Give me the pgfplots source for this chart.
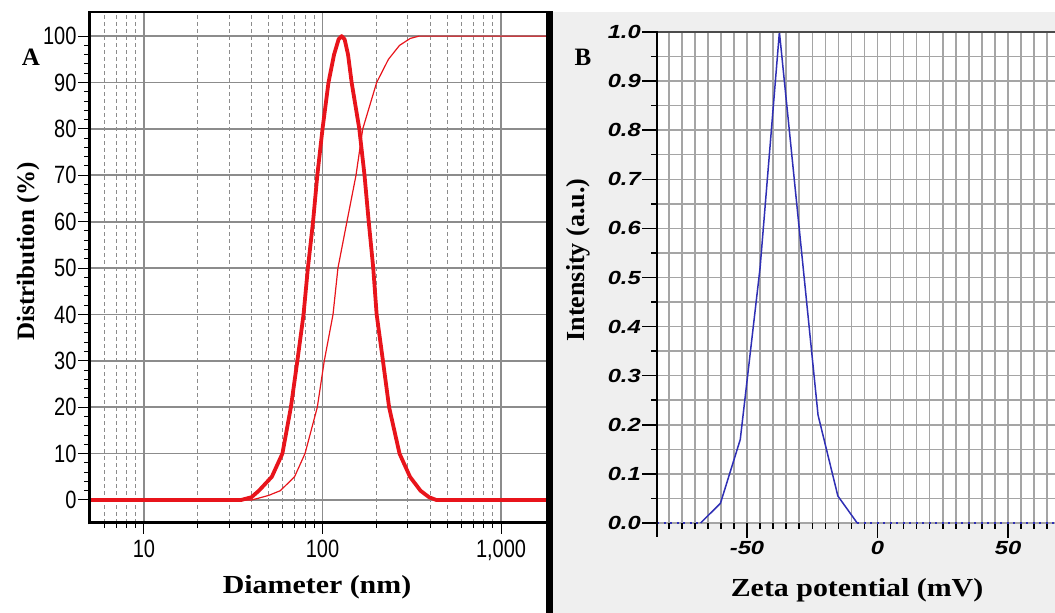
\documentclass[border=0pt]{standalone}
\usepackage{pgfplots}
\pgfplotsset{compat=1.18}
\usepackage{fontspec}
\setmainfont{Liberation Serif}
\newfontfamily\tickA[FakeStretch=0.8]{Liberation Sans}
\newfontfamily\tickB[FakeStretch=1.25]{Liberation Sans}
\newfontfamily\labH[FakeStretch=1.15]{Liberation Serif}
\definecolor{dlsred}{HTML}{E8141B}
\definecolor{zetablue}{HTML}{2F2FB5}
\definecolor{panelgray}{HTML}{EFEFEF}
\definecolor{gridA}{HTML}{8C8C8C}
\definecolor{gridB}{HTML}{A5A5A5}

\begin{document}
\begin{tikzpicture}[x=1pt,y=1pt]
\path[use as bounding box] (0,0) rectangle (1055,613);
\fill[panelgray] (553,0) rectangle (1055,601);

% (A) size distribution
\begin{axis}[
  anchor=south west, at={(89pt,90pt)},
  scale only axis, width=457pt, height=511pt,
  xmode=log, xmin=4.92, xmax=1786, ymin=-4.96, ymax=105.2,
  axis line style={draw=none},
  xtick={10,100,1000}, xticklabels={10,100,{1,000}},
  minor xtick={6,7,8,9,20,30,40,50,60,70,80,90,200,300,400,500,600,700,800,900},
  ytick={0,10,...,100},
  yticklabels={0,10,20,30,40,50,60,70,80,90,100},
  minor y tick num=4,
  tick align=outside, xtick pos=bottom, ytick pos=left,
  major tick length=11pt, minor tick length=5pt,
  tick style={black, line width=1pt},
  xmajorgrids, xminorgrids, ymajorgrids,
  major grid style={gridA, line width=1.7pt},
  minor grid style={gridA, line width=1pt, dash pattern=on 4pt off 3pt},
  tick label style={font=\tickA\fontsize{25}{25}\selectfont},
  yticklabel style={inner sep=1.5pt},
  xticklabel style={inner sep=6pt},
]
\addplot[dlsred, line width=1.2pt] coordinates {
  (4.92,0) (40,0) (43,0.3) (50,1) (58,2) (69.7,5) (79.8,10) (93.5,20)
  (102.3,30) (114.5,40) (122,50) (137,60) (154,70) (168,80) (201,90)
  (234,95) (270,98) (310,99.5) (347,100) (1786,100)
};
\addplot[dlsred, line width=3.8pt, line join=round] coordinates {
  (4.92,0) (35,0) (40,0.6) (44,2) (52,5) (59.6,10) (66.5,20) (72.3,30)
  (78.3,40) (82.8,50) (88.5,60) (93.5,70) (100,80) (108,90) (116,96)
  (123,99.3) (128,100) (133,99.3) (139,96) (145.6,90) (160.7,80)
  (171.9,70) (181.5,60) (192.4,50) (201,40) (218,30) (236,20) (270,10)
  (309,5) (354,2) (395,0.6) (434,0) (1786,0)
};
\end{axis}
\draw[line width=1.5pt] (89,601) -- (547,601);
\draw[line width=3pt] (89,90) -- (547,90);
\draw[line width=3pt] (89,88.5) -- (89,601.7);
\fill[black] (546,0) rectangle (553,601.7);

% (B) zeta potential
\begin{axis}[
  anchor=south west, at={(657pt,90pt)},
  scale only axis, width=398pt, height=491pt,
  xmin=-84.5, xmax=68, ymin=0, ymax=1,
  axis background/.style={fill=white},
  axis line style={draw=none},
  clip=false,
  xtick={-50,0,50}, xticklabels={-50,0,50},
  minor xtick={-80,-75,...,65},
  ytick={0,0.1,0.2,0.3,0.4,0.5,0.6,0.7,0.8,0.9,1},
  yticklabels={0.0,0.1,0.2,0.3,0.4,0.5,0.6,0.7,0.8,0.9,1.0},
  minor ytick={0.05,0.15,0.25,0.35,0.45,0.55,0.65,0.75,0.85,0.95},
  tick align=outside, xtick pos=bottom, ytick pos=left,
  major tick length=15pt, minor tick length=6pt,
  tick style={black, line width=1.5pt},
  xmajorgrids, xminorgrids, ymajorgrids, yminorgrids,
  grid style={gridB, line width=1.5pt},
  tick label style={font=\tickB\bfseries\itshape\fontsize{19}{19}\selectfont},
  yticklabel style={inner sep=1pt},
  xticklabel style={inner sep=3pt},
]
\addplot[zetablue, line width=1.5pt, dash pattern=on 2pt off 4.5pt] coordinates {(-84.5,0) (-67.8,0)};
\addplot[zetablue, line width=1.5pt, dash pattern=on 2pt off 4.5pt] coordinates {(-7.8,0) (68,0)};
\addplot[zetablue, line width=1.5pt] coordinates {
  (-67.8,0) (-60.2,0.04) (-52.6,0.17) (-45.0,0.52) (-37.6,1.0)
  (-30.2,0.61) (-22.8,0.22) (-15.2,0.055) (-7.8,0)
};
\end{axis}
\draw[line width=1.2pt, black!70] (657,581) -- (1055,581);
\draw[line width=2pt] (657,581.6) -- (657,76);

% labels
\node[font=\bfseries\fontsize{25}{25}\selectfont] at (31,556) {A};
\node[font=\bfseries\fontsize{25}{25}\selectfont] at (583,556) {B};
\node[font=\bfseries\fontsize{25}{25}\selectfont, rotate=90] at (28,362) {Distribution (\%)};
\node[font=\labH\bfseries\fontsize{26}{26}\selectfont] at (317,26) {Diameter (nm)};
\node[font=\bfseries\fontsize{26}{26}\selectfont, rotate=90] at (578,353) {Intensity (a.u.)};
\node[font=\labH\bfseries\fontsize{26}{26}\selectfont] at (857,23) {Zeta potential (mV)};
\end{tikzpicture}
\end{document}
